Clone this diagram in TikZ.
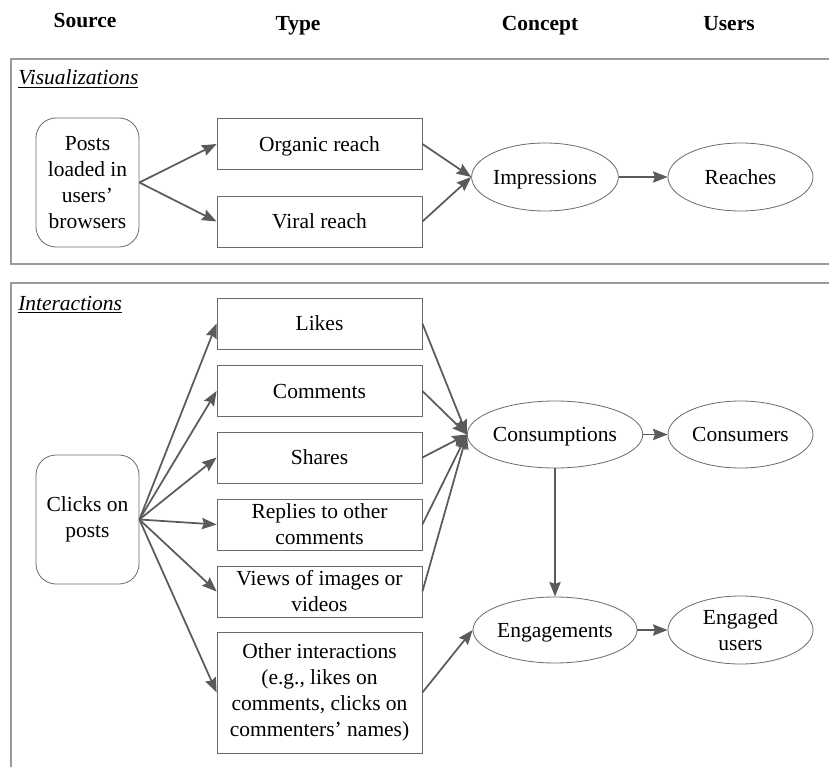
\documentclass[tikz,border=0pt]{standalone}
\usepackage{fontspec}
\setmainfont{Liberation Serif}
\usepackage{tikz}
\usetikzlibrary{shapes.geometric,arrows.meta}

\definecolor{linegray}{HTML}{5A5A5A}
\definecolor{boxgray}{HTML}{6A6A6A}
\definecolor{framegray}{HTML}{9A9A9A}

\begin{document}
\begin{tikzpicture}[x=0.75pt,y=-0.75pt,
	every node/.style={font=\fontsize{16.1}{19.5}\selectfont, inner sep=0pt, align=center},
	header/.style={font=\fontsize{16.1}{19.5}\selectfont\bfseries, anchor=base},
	oneline/.style={text height=10.6pt, text depth=0pt},
	multiline/.style={text height=, text depth=},
	typebox/.style={oneline, draw=boxgray, line width=0.6pt, minimum width=153.75pt, minimum height=38.25pt},
	srcbox/.style={draw=boxgray, line width=0.6pt, rounded corners=15pt, minimum width=77.25pt, minimum height=96.75pt},
	oval/.style={oneline, ellipse, draw=boxgray, line width=0.6pt, minimum width=123pt, minimum height=50.25pt},
	smalloval/.style={oval, minimum width=108.75pt, minimum height=51pt},
	link/.style={draw=linegray, line width=1.3pt, -{Stealth[length=11pt,width=8.5pt,inset=1.5pt]}}]
	\useasboundingbox (0,0) rectangle (829,767);

	% headings
	\node[header] (hsource) at (85,28) {Source};
	\node[header] (htype) at (298,31) {Type};
	\node[header] (hconcept) at (540,31) {Concept};
	\node[header] (husers) at (729,31) {Users};

	% frames
	\draw[framegray, line width=1.3pt] (829,59) -- (11,59) -- (11,264) -- (829,264);
	\draw[framegray, line width=1.3pt] (829,283) -- (11,283) -- (11,767);
	\node[anchor=base west] (lvis) at (18,85) {\underline{\textit{Visualizations}}};
	\node[anchor=base west] (lint) at (18,310) {\underline{\textit{Interactions}}};

	% visualizations
	\node[srcbox] (posts) at (87.5,182.5) {Posts\\loaded in\\users'\\browsers};
	\node[typebox] (organic) at (319.5,144) {Organic reach};
	\node[typebox] (viral) at (319.5,221.5) {Viral reach};
	\node[smalloval] (impr) at (545,177) {Impressions};
	\node[smalloval] (reach) at (740.5,177) {Reaches};

	\draw[link] (posts.east) -- (organic.west);
	\draw[link] (posts.east) -- (viral.west);
	\draw[link] (organic.east) -- (impr.west);
	\draw[link] (viral.east) -- (impr.west);
	\draw[link] (impr) -- (reach);

	% interactions
	\node[srcbox] (clicks) at (87.5,519.5) {Clicks on\\posts};
	\node[typebox] (likes) at (319.5,323.5) {Likes};
	\node[typebox] (comments) at (319.5,391) {Comments};
	\node[typebox] (shares) at (319.5,457.5) {Shares};
	\node[typebox, multiline] (replies) at (319.5,524.5) {Replies to other\\comments};
	\node[typebox, multiline] (views) at (319.5,591.5) {Views of images or\\videos};
	\node[typebox, multiline, minimum height=90.75pt] (other) at (319.5,692.5) {Other interactions\\(e.g., likes on\\comments, clicks on\\commenters' names)};
	\node[oval] (consump) at (555,434.5) {Consumptions};
	\node[smalloval, minimum height=50.25pt] (consumers) at (740.5,434.5) {Consumers};
	\node[oval, minimum height=49.5pt] (engage) at (555,630) {Engagements};
	\node[smalloval, multiline] (engaged) at (740.5,630) {Engaged\\users};

	\foreach \t in {likes,comments,shares,replies,views,other}
		\draw[link] (clicks.east) -- (\t.west);
	\foreach \t in {likes,comments,shares,replies,views}
		\draw[link] (\t.east) -- (consump.west);
	\draw[link] (other.east) -- (engage.west);
	\draw[link] (consump) -- (consumers);
	\draw[link] (consump) -- (engage);
	\draw[link] (engage) -- (engaged);
\end{tikzpicture}
\end{document}
